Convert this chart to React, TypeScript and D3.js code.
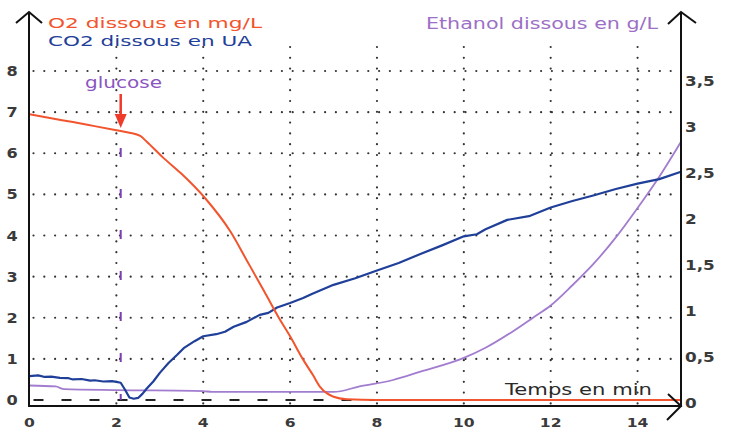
import React from 'react';
import * as d3 from 'd3';

// O2 dissous (mg/L) - axe gauche
const o2Time = [0, 0.5, 1, 1.5, 2, 2.3, 2.55, 2.7, 3.07, 3.5, 4.05, 4.63, 5, 5.4, 5.74, 6, 6.29, 6.53, 6.69, 6.85, 7.0, 7.3, 8, 10, 12, 14, 15];
const o2Values = [6.95, 6.85, 6.76, 6.66, 6.56, 6.5, 6.42, 6.28, 5.9, 5.5, 4.9, 4.09, 3.4, 2.65, 2.0, 1.55, 1.0, 0.6, 0.32, 0.16, 0.08, 0.02, 0, 0, 0, 0, 0];

// CO2 dissous (UA) - axe gauche
const co2Time = [0, 0.2, 0.35, 0.5, 0.7, 0.9, 1.0, 1.2, 1.4, 1.5, 1.7, 1.9, 2.0, 2.1, 2.2, 2.3, 2.4, 2.5, 2.6, 2.7, 2.85, 3.0, 3.2, 3.4, 3.55, 3.8, 4.0, 4.3, 4.5, 4.7, 5.0, 5.3, 5.5, 5.7, 6.0, 6.3, 6.5, 7.0, 7.5, 8.0, 8.5, 9.0, 9.5, 10.0, 10.3, 10.5, 11.0, 11.5, 12.0, 12.5, 13.0, 13.5, 14.0, 14.5, 15];
const co2Values = [0.58, 0.6, 0.56, 0.57, 0.54, 0.53, 0.5, 0.51, 0.47, 0.48, 0.45, 0.46, 0.44, 0.42, 0.25, 0.06, 0.03, 0.05, 0.15, 0.28, 0.45, 0.66, 0.9, 1.1, 1.26, 1.43, 1.55, 1.6, 1.66, 1.78, 1.9, 2.07, 2.12, 2.25, 2.36, 2.48, 2.58, 2.8, 2.96, 3.15, 3.33, 3.55, 3.76, 3.98, 4.03, 4.15, 4.38, 4.47, 4.68, 4.84, 4.98, 5.13, 5.26, 5.37, 5.55];

// Ethanol dissous (g/L) - axe droit
const ethTime = [0, 0.6, 0.8, 2, 4, 4.2, 7, 7.6, 8.37, 9, 10, 10.5, 11.1, 11.6, 12, 12.5, 13, 13.5, 14, 14.5, 15];
const ethValues = [0.19, 0.18, 0.15, 0.14, 0.13, 0.12, 0.12, 0.18, 0.25, 0.34, 0.49, 0.6, 0.77, 0.93, 1.06, 1.28, 1.52, 1.8, 2.12, 2.46, 2.84];

const xTicks = [0, 2, 4, 6, 8, 10, 12, 14];
const leftTicks = [0, 1, 2, 3, 4, 5, 6, 7, 8];
const rightTicks = [0, 0.5, 1, 1.5, 2, 2.5, 3, 3.5];
const glucoseTime = 2.1;

const W = 729;
const H = 428;
const FONT = '"DejaVu Sans", Verdana, sans-serif';

const ORANGE = '#f2542d';
const BLUE = '#1f3f99';
const PURPLE = '#a27ccf';

const App = () => {
  const x = d3.scaleLinear().domain([0, 15]).range([29.5, 681]);
  const yL = d3.scaleLinear().domain([0, 8]).range([400, 71]);
  const yR = d3.scaleLinear().domain([0, 3.5]).range([403, 81]);
  const axisY = 406;
  const topGrid = 47;

  const lineL = d3.line<[number, number]>().x(d => x(d[0])).y(d => yL(d[1]));
  const smoothL = d3.line<[number, number]>().x(d => x(d[0])).y(d => yL(d[1])).curve(d3.curveMonotoneX);
  const smoothR = d3.line<[number, number]>().x(d => x(d[0])).y(d => yR(d[1])).curve(d3.curveMonotoneX);

  const o2 = o2Time.map((t, i) => [t, o2Values[i]] as [number, number]);
  const co2 = co2Time.map((t, i) => [t, co2Values[i]] as [number, number]);
  const eth = ethTime.map((t, i) => [t, ethValues[i]] as [number, number]);

  const gx = x(glucoseTime);
  const dot = { stroke: '#333', strokeWidth: 2.2, strokeLinecap: 'round' as const, strokeDasharray: '0 10.8' };

  return (
    <svg width={W} height={H} style={{ position: 'fixed', top: 0, left: 0, background: '#fff' }} fontFamily={FONT}>
      <rect width={W} height={H} fill="#fff" />

      {/* grille pointillée */}
      {leftTicks.filter(v => v > 0).map(v => (
        <line key={'h' + v} x1={x(0) + 4} x2={x(15) - 4} y1={yL(v)} y2={yL(v)} {...dot} />
      ))}
      {xTicks.filter(v => v > 0).map(v => (
        <line key={'v' + v} x1={x(v)} x2={x(v)} y1={topGrid} y2={axisY} {...dot} />
      ))}

      {/* ligne zéro en tirets */}
      <line x1={x(0)} x2={x(15)} y1={yL(0)} y2={yL(0)} stroke="#222" strokeWidth={2} strokeDasharray="10 18" strokeDashoffset={-4} />

      {/* ajout du glucose */}
      <line x1={gx} x2={gx} y1={148} y2={yL(0)} stroke="#7a3fb2" strokeWidth={2} strokeDasharray="9 32" />
      <line x1={gx} x2={gx} y1={94} y2={116} stroke="#f03a2a" strokeWidth={2.5} />
      <path d={`M${gx - 6},${114} L${gx + 6},${114} L${gx},${128} Z`} fill="#f03a2a" />
      <text x={85} y={88} fontSize={15} fill="#8b55bf" textLength={77} lengthAdjust="spacingAndGlyphs">glucose</text>

      {/* courbes */}
      <path d={smoothR(eth) || ''} fill="none" stroke={PURPLE} strokeWidth={1.8} />
      <path d={lineL(co2) || ''} fill="none" stroke={BLUE} strokeWidth={2.2} strokeLinejoin="round" />
      <path d={smoothL(o2) || ''} fill="none" stroke={ORANGE} strokeWidth={2} />

      {/* axes */}
      <line x1={29} x2={29} y1={12} y2={axisY + 1} stroke="#111" strokeWidth={2} />
      <line x1={681} x2={681} y1={12} y2={axisY + 1} stroke="#111" strokeWidth={2} />
      <line x1={28} x2={681} y1={axisY} y2={axisY} stroke="#111" strokeWidth={2} />
      <path d="M16,23 L29,12 L42,23" fill="none" stroke="#111" strokeWidth={2} />
      <path d="M668,24 L681,12 L696,23" fill="none" stroke="#111" strokeWidth={2} />
      <path d="M668,394 L681,406 L667,420" fill="none" stroke="#111" strokeWidth={2} />

      {/* graduations */}
      {leftTicks.map(v => (
        <text key={'l' + v} transform={`translate(12,${yL(v) + 5}) scale(1.15,1)`} textAnchor="middle" fontSize={14} fontWeight="bold" fill="#3a3a3a">{v}</text>
      ))}
      {rightTicks.map(v => (
        <text key={'r' + v} transform={`translate(685,${yR(v) + 5}) scale(1.2,1)`} fontSize={14} fontWeight="bold" fill="#3a3a3a">{String(v).replace('.', ',')}</text>
      ))}
      {xTicks.map(v => (
        <text key={'x' + v} transform={`translate(${x(v)},${427}) scale(1.2,1)`} textAnchor="middle" fontSize={13} fontWeight="bold" fill="#3a3a3a">{v}</text>
      ))}

      {/* titres */}
      <text x={48} y={28} fontSize={14.5} fill={ORANGE} textLength={214} lengthAdjust="spacingAndGlyphs">O2 dissous en mg/L</text>
      <text x={48} y={46} fontSize={14.5} fill={BLUE} textLength={204} lengthAdjust="spacingAndGlyphs">CO2 dissous en UA</text>
      <text x={426} y={29} fontSize={15} fill="#9c70c6" textLength={232} lengthAdjust="spacingAndGlyphs">Ethanol dissous en g/L</text>
      <text x={505} y={395} fontSize={15} fill="#2a2a2a" textLength={147} lengthAdjust="spacingAndGlyphs">Temps en min</text>
    </svg>
  );
};

export default App;
